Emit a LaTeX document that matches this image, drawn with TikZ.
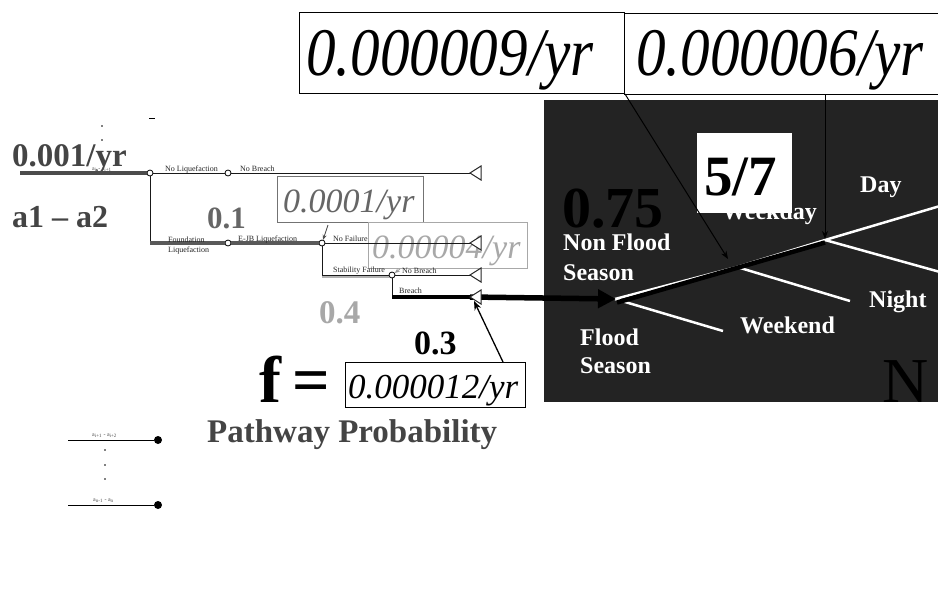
\documentclass[tikz,border=0pt]{standalone}
\usepackage{fontspec}
\setmainfont{Liberation Serif}
\usetikzlibrary{arrows.meta,calc}
\definecolor{panel}{HTML}{232323}
\definecolor{dkg}{HTML}{444444}
\definecolor{mdg}{HTML}{666666}
\definecolor{ltg}{HTML}{A8A8A8}
\begin{document}
\begin{tikzpicture}[x=1pt,y=-1pt,
  small/.style={font=\fontsize{8}{8}\selectfont, text=black!85, inner sep=0, anchor=base west},
  tiny/.style={font=\fontsize{6}{6}\selectfont, text=black!70, inner sep=0, anchor=base west},
  btxt/.style={inner sep=0, anchor=base west},
  circ/.style={circle, draw, fill=white, inner sep=0, minimum size=6pt, line width=0.8pt},
  bdot/.style={circle, fill=black, inner sep=0, minimum size=8pt},
  wlab/.style={text=white, font=\fontsize{24}{24}\selectfont\bfseries, inner sep=0, anchor=base west},
  thinl/.style={line width=1pt, black!90},
  pathl/.style={line width=3.5pt, black!65},
  wline/.style={line width=2.5pt, white},
  ebox/.style={draw, inner sep=0, anchor=north west},
  tri/.style={draw=black!85, fill=white, line width=1pt},
  arr/.style={-{Stealth[length=8pt,width=6pt]}, line width=1pt}
]
\useasboundingbox (0,0) rectangle (938,590);
\fill[white] (0,0) rectangle (938,590);

% dark panel
\fill[panel] (544,100) rectangle (938,402);

% top boxes
\node[ebox, line width=1pt, minimum width=325pt, minimum height=81pt] (box1) at (299,12) {};
\node[ebox, line width=1pt, minimum width=330pt, minimum height=81pt] (box2) at (624,13) {};
\node[btxt] (v1) at (306,75) {\scalebox{0.87}[1]{\fontsize{68}{68}\selectfont\itshape 0.000009/yr}};
\node[btxt] (v2) at (636,75) {\scalebox{0.87}[1]{\fontsize{68}{68}\selectfont\itshape 0.000006/yr}};

% panel labels
\node[wlab] (wd) at (722,219) {Weekday};
\node[fill=white, inner sep=0, minimum width=95pt, minimum height=80pt, anchor=north west] (fracbox) at (697,133) {};
\node[btxt, font=\fontsize{57}{57}\selectfont\bfseries] (frac) at (704,195) {5/7};
\node[btxt, font=\fontsize{58}{58}\selectfont\bfseries] (p75) at (562,227) {0.75};
\node[wlab] (nf1) at (563,250) {Non Flood};
\node[wlab] (nf2) at (563,280) {Season};
\node[wlab] (fs1) at (580,345) {Flood};
\node[wlab] (fs2) at (580,373) {Season};
\node[wlab] (day) at (860,192) {Day};
\node[wlab] (night) at (869,307) {Night};
\node[wlab] (wend) at (740,333) {Weekend};
\node[btxt, font=\fontsize{64}{64}\selectfont] (bigN) at (882,402) {N};

% panel tree
\coordinate (root) at (615,299);
\coordinate (b1) at (737,267);
\coordinate (b2) at (825,240);
\coordinate (eday) at (940,206);
\coordinate (elow) at (940,272);
\coordinate (enight) at (850,301);
\coordinate (ewend) at (723,331);
\draw[wline] (root) -- (b1) -- (b2) -- (eday);
\draw[wline] (b2) -- (elow);
\draw[wline] (b1) -- (enight);
\draw[wline] (root) -- (ewend);
\draw[line width=4.5pt, black] ($(root)+(2,3.5)$) -- ($(b2)+(0,2.5)$);

% arrows from top boxes
\coordinate (a1end) at (728,259);
\coordinate (a2start) at (825,94);
\draw[arr] (box1.south east) -- (a1end);
\draw[arr] (a2start) -- ($(b2)+(0,-1)$);

% left texts
\node[btxt, text=dkg, font=\fontsize{33}{33}\selectfont\bfseries] (rate) at (12,166) {0.001/yr};
\node[btxt, text=dkg, font=\fontsize{32}{32}\selectfont\bfseries] (a12) at (12,227) {a1 – a2};
\node[btxt, text=mdg, font=\fontsize{31}{31}\selectfont\bfseries] (p1) at (207,228) {0.1};
\node[btxt, text=ltg, font=\fontsize{33}{33}\selectfont\bfseries] (p4) at (319,323) {0.4};
\node[btxt, text=black, font=\fontsize{34}{34}\selectfont\bfseries] (p3) at (414,354) {0.3};
\node[btxt, text=black, font=\fontsize{66}{66}\selectfont\bfseries] (feq) at (259,402) {f\,=};
\node[btxt, text=dkg, font=\fontsize{33}{33}\selectfont\bfseries] (pp) at (207,442) {Pathway Probability};

% value boxes left
\node[ebox, draw=black!55, line width=1pt, minimum width=146pt, minimum height=46pt] (bx1) at (277,176) {};
\node[btxt, text=mdg, font=\fontsize{34}{34}\selectfont\itshape] (v3) at (283,212) {0.0001/yr};
\node[ebox, draw=ltg, line width=1pt, minimum width=159pt, minimum height=46pt] (bx2) at (368,222) {};
\node[btxt, text=ltg, font=\fontsize{34}{34}\selectfont\itshape] (v4) at (372,258) {0.00004/yr};
\node[ebox, draw=black, line width=1pt, minimum width=180pt, minimum height=45pt] (fbox) at (345,362) {};
\node[btxt, text=black, font=\fontsize{35}{35}\selectfont\itshape] (v5) at (348,398) {0.000012/yr};

% left tree
\coordinate (s0) at (20,173);
\node[circ] (n1) at (150,173) {};
\node[circ] (n2) at (228,173) {};
\coordinate (t1) at (470,173);
\coordinate (c1) at (150,243);
\node[circ] (n3) at (228,243) {};
\node[circ] (n4) at (322,243) {};
\coordinate (t2) at (470,243);
\coordinate (c2) at (322,275);
\node[circ] (n5) at (392,275) {};
\coordinate (t3) at (470,275);
\coordinate (c3) at (392,297);
\coordinate (t4) at (470,297);

\draw[pathl, black!70] (s0) -- (n1);
\draw[thinl] (n1) -- (n2) -- (t1);
\draw[thinl] (n1) -- (c1);
\draw[pathl] (c1) -- (n3);
\draw[pathl] (n3) -- (n4);
\draw[thinl] (n4) -- (t2);
\draw[thinl] (n4) -- (c2);
\draw[line width=3pt, black!30] ($(c2)+(0,1.5)$) -- ($(n5.west)+(0,1.5)$);
\draw[thinl] (c2) -- (n5);
\draw[thinl] (n5) -- (t3);
\draw[thinl] (n5) -- (c3);
\draw[line width=4pt, black] (c3) -- (t4);
\draw[line width=5.5pt, black, -{Triangle[length=18pt,width=18pt]}] (t4) -- ($(root)+(1,0)$);
\foreach \t in {t1,t2,t3,t4}
  \draw[tri] (\t) -- ++(11,-7) -- ++(0,14) -- cycle;

% small arrows
\draw[-{Stealth[length=5pt,width=4pt]}, line width=0.8pt, black!70] ($(bx1.south west)+(51,2)$) -- (n4);
\draw[-{Stealth[length=5pt,width=4pt]}, line width=0.8pt, black!40] ($(bx2.south west)+(32,0)$) -- (n5);
\coordinate (fend) at (474,301);
\draw[-{Stealth[length=9pt,width=7pt]}, line width=1.3pt] ($(fbox.north west)+(158,0)$) -- (fend);

% small labels
\node[small] (l1) at (165,171) {No Liquefaction};
\node[small] (l2) at (240,171) {No Breach};
\node[small] (l3) at (168,242) {Foundation};
\node[small] (l4) at (168,252) {Liquefaction};
\node[small] (l5) at (238,241) {E-JB Liquefaction};
\node[small] (l6) at (333,241) {No Failure};
\node[small] (l7) at (333,272) {Stability Failure};
\node[small] (l8) at (402,273) {No Breach};
\node[small] (l9) at (399,293) {Breach};
\node[tiny] (ta) at (92,170) {a\textsubscript{i} - a\textsubscript{i+1}};

% dots at top
\fill (102,126) circle (0.8);
\fill (102,140) circle (0.8);
\draw[line width=1pt] (149,118) -- (155,118);

% bottom legend
\coordinate (g1) at (68,440);
\node[bdot] (d1) at (158,440) {};
\coordinate (g2) at (68,505);
\node[bdot] (d2) at (158,505) {};
\draw[line width=1pt] (g1) -- (d1);
\draw[line width=1pt] (g2) -- (d2);
\node[tiny] (tb1) at (92,436) {a\textsubscript{i+1} - a\textsubscript{i+2}};
\node[tiny] (tb2) at (93,501) {a\textsubscript{n-1} - a\textsubscript{n}};
\fill (105,450) circle (0.8);
\fill (105,465) circle (0.8);
\fill (105,479) circle (0.8);
\end{tikzpicture}
\end{document}
